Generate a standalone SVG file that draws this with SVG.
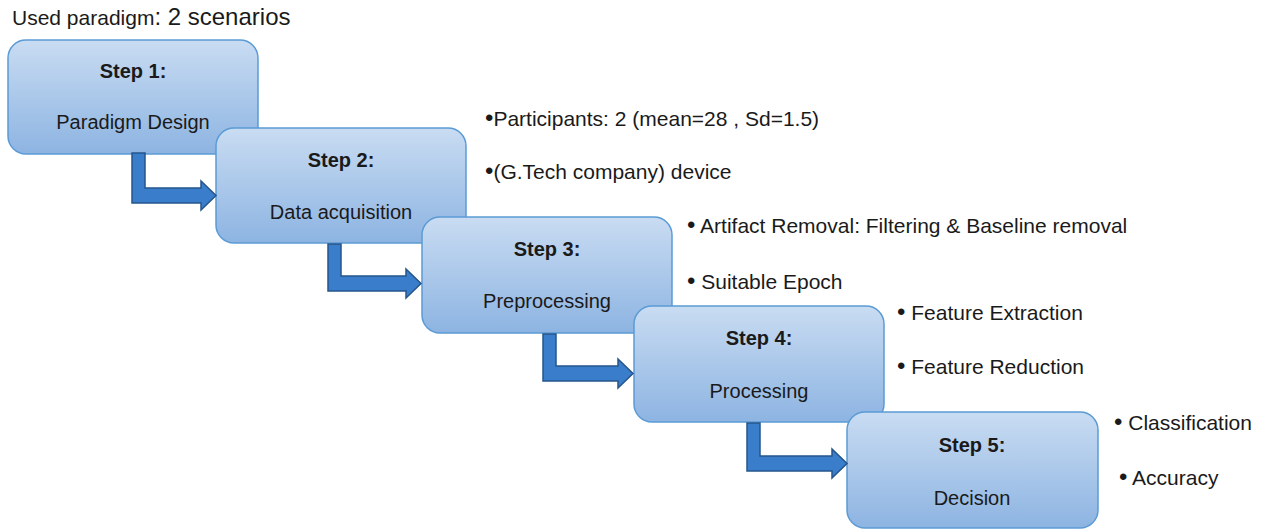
<svg xmlns="http://www.w3.org/2000/svg" width="1262" height="530" viewBox="0 0 1262 530">
  <style>
    .box { fill: url(#boxFill); stroke: #5b9bd5; stroke-width: 1.5; }
    .step { font-family: "Liberation Sans", Arial, sans-serif; font-size: 20px; font-weight: bold; fill: #1a1a1a; text-anchor: middle; }
    .label { font-family: "Liberation Sans", Arial, sans-serif; font-size: 20px; fill: #1a1a1a; text-anchor: middle; }
    .note { font-family: "Liberation Sans", Arial, sans-serif; font-size: 21px; fill: #1a1a1a; }
    .dot { font-size: 24px; }
    .arrow { fill: #3a7ecb; stroke: #24558c; stroke-width: 1.5; stroke-linejoin: miter; }
  </style>
  <defs>
    <linearGradient id="boxFill" x1="0" y1="0" x2="0" y2="1">
      <stop offset="0" stop-color="#c9dcf2"/>
      <stop offset="1" stop-color="#8db4e2"/>
    </linearGradient>
  </defs>
  <rect width="1262" height="530" fill="#ffffff"/>

  <text class="note" x="12" y="25" font-size="20"><tspan>Used paradigm</tspan><tspan font-size="24">: 2 scenarios</tspan></text>

  <g id="step1">
    <rect class="box" x="8" y="40" width="250" height="114" rx="18"/>
    <text class="step" x="133" y="78">Step 1:</text>
    <text class="label" x="133" y="129">Paradigm Design</text>
  </g>
  <g id="step2">
    <rect class="box" x="216" y="128" width="250" height="115" rx="18"/>
    <text class="step" x="341" y="167">Step 2:</text>
    <text class="label" x="341" y="219">Data acquisition</text>
  </g>
  <g id="step3">
    <rect class="box" x="422" y="217" width="250" height="116" rx="18"/>
    <text class="step" x="547" y="256">Step 3:</text>
    <text class="label" x="547" y="308">Preprocessing</text>
  </g>
  <g id="step4">
    <rect class="box" x="634" y="306" width="250" height="116" rx="18"/>
    <text class="step" x="759" y="345">Step 4:</text>
    <text class="label" x="759" y="398">Processing</text>
  </g>
  <g id="step5">
    <rect class="box" x="847" y="412" width="251" height="116" rx="18"/>
    <text class="step" x="972" y="452">Step 5:</text>
    <text class="label" x="972" y="505">Decision</text>
  </g>

  <g id="connectors">
    <path class="arrow" d="M132,153 H145 V188 H201 V181 L216,195.5 L201,210 V203 H132 Z"/>
    <path class="arrow" d="M328,244 H341 V276 H406 V269 L421,283.5 L406,298 V291 H328 Z"/>
    <path class="arrow" d="M543,334 H556 V366 H618 V359 L633,373.5 L618,388 V381 H543 Z"/>
    <path class="arrow" d="M747,423 H760 V456 H832 V449 L847,463.5 L832,478 V471 H747 Z"/>
  </g>

  <g id="notes2">
    <text class="note" x="485" y="126"><tspan class="dot">•</tspan>Participants: 2 (mean=28 , Sd=1.5)</text>
    <text class="note" x="485" y="179"><tspan class="dot">•</tspan>(G.Tech company) device</text>
  </g>
  <g id="notes3">
    <text class="note" x="687" y="233"><tspan class="dot">•</tspan> Artifact Removal: Filtering &amp; Baseline removal</text>
    <text class="note" x="687" y="289"><tspan class="dot">•</tspan> Suitable Epoch</text>
  </g>
  <g id="notes4">
    <text class="note" x="897" y="320"><tspan class="dot">•</tspan> Feature Extraction</text>
    <text class="note" x="897" y="374"><tspan class="dot">•</tspan> Feature Reduction</text>
  </g>
  <g id="notes5">
    <text class="note" x="1114" y="430"><tspan class="dot">•</tspan> Classification</text>
    <text class="note" x="1119" y="485"><tspan class="dot">•</tspan> Accuracy</text>
  </g>
</svg>
